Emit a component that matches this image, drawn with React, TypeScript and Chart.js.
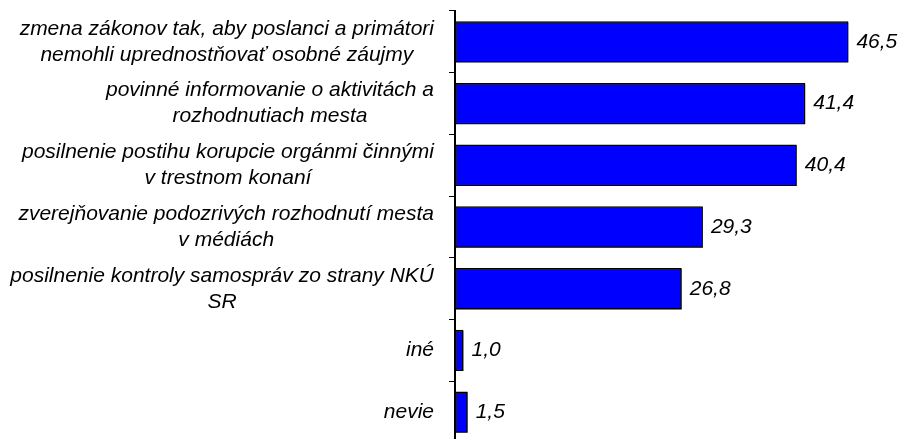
import React, { useEffect, useRef } from 'react';
import { Chart, registerables } from 'chart.js';

Chart.register(...registerables);

const categories: string[][] = [
  ['zmena zákonov tak, aby poslanci a primátori', 'nemohli uprednostňovať osobné záujmy'],
  ['povinné informovanie o aktivitách a', 'rozhodnutiach mesta'],
  ['posilnenie postihu korupcie orgánmi činnými', 'v trestnom konaní'],
  ['zverejňovanie podozrivých rozhodnutí mesta', 'v médiách'],
  ['posilnenie kontroly samospráv zo strany NKÚ', 'SR'],
  ['iné'],
  ['nevie'],
];
const values: number[] = [46.5, 41.4, 40.4, 29.3, 26.8, 1.0, 1.5];
const xMin = 0;
const xMax = 50;

const FONT = 'italic 21px "Liberation Sans", Arial, sans-serif';
const LINE_H = 26;

const labelPlugin = {
  id: 'catLabels',
  afterDraw(chart: any) {
    const ctx = chart.ctx as CanvasRenderingContext2D;
    const ys = chart.scales.y;
    ctx.save();
    ctx.font = FONT;
    ctx.fillStyle = '#000';
    ctx.textAlign = 'center';
    ctx.textBaseline = 'middle';
    categories.forEach((lines, i) => {
      const yc = ys.getPixelForValue(i);
      const w = Math.max(...lines.map((l) => ctx.measureText(l).width));
      const right = ys.right - 21;
      const cx = right - w / 2;
      lines.forEach((l, j) => {
        ctx.fillText(l, cx, yc + (j - (lines.length - 1) / 2) * LINE_H);
      });
    });
    ctx.restore();
  },
};

const barPlugin = {
  id: 'barShadowValues',
  beforeDatasetsDraw(chart: any) {
    const ctx = chart.ctx as CanvasRenderingContext2D;
    ctx.save();
    ctx.shadowColor = 'rgba(0,0,0,0.7)';
    ctx.shadowOffsetX = 1;
    ctx.shadowOffsetY = 1;
    ctx.shadowBlur = 0;
  },
  afterDatasetsDraw(chart: any) {
    const ctx = chart.ctx as CanvasRenderingContext2D;
    ctx.restore();
    const meta = chart.getDatasetMeta(0);
    ctx.save();
    ctx.font = FONT;
    ctx.fillStyle = '#000';
    ctx.textAlign = 'left';
    ctx.textBaseline = 'middle';
    meta.data.forEach((el: any, i: number) => {
      const txt = values[i].toFixed(1).replace('.', ',');
      ctx.fillText(txt, el.x + 8, el.y);
    });
    ctx.restore();
  },
};

export default function App() {
  const ref = useRef<HTMLCanvasElement>(null);
  useEffect(() => {
    if (!ref.current) return;
    const chart = new Chart(ref.current, {
      type: 'bar',
      data: {
        labels: categories.map((c) => c.join(' ')),
        datasets: [
          {
            data: values,
            backgroundColor: '#0000FF',
            borderColor: '#000000',
            borderWidth: 1.5,
            borderSkipped: false,
            categoryPercentage: 1,
            barPercentage: 0.67,
          },
        ],
      },
      options: {
        indexAxis: 'y',
        responsive: false,
        animation: false,
        layout: { padding: { top: 11, right: 21, bottom: 1, left: 0 } },
        plugins: {
          legend: { display: false },
          tooltip: { enabled: false },
          title: { display: false },
        },
        scales: {
          x: { display: false, min: xMin, max: xMax },
          y: {
            display: true,
            grid: {
              display: true,
              drawOnChartArea: false,
              drawTicks: true,
              tickLength: 6,
              color: '#000',
              lineWidth: 1,
              offset: true,
            },
            border: { display: true, color: '#000', width: 2 },
            ticks: { display: false },
            afterFit(scale: any) {
              scale.width = 455;
            },
          },
        },
      },
      plugins: [labelPlugin, barPlugin],
    });
    return () => chart.destroy();
  }, []);
  return (
    <div style={{ position: 'fixed', left: 0, top: 0, width: 899, height: 444, background: '#fff' }}>
      <canvas ref={ref} width={899} height={444} style={{ display: 'block' }} />
    </div>
  );
}
